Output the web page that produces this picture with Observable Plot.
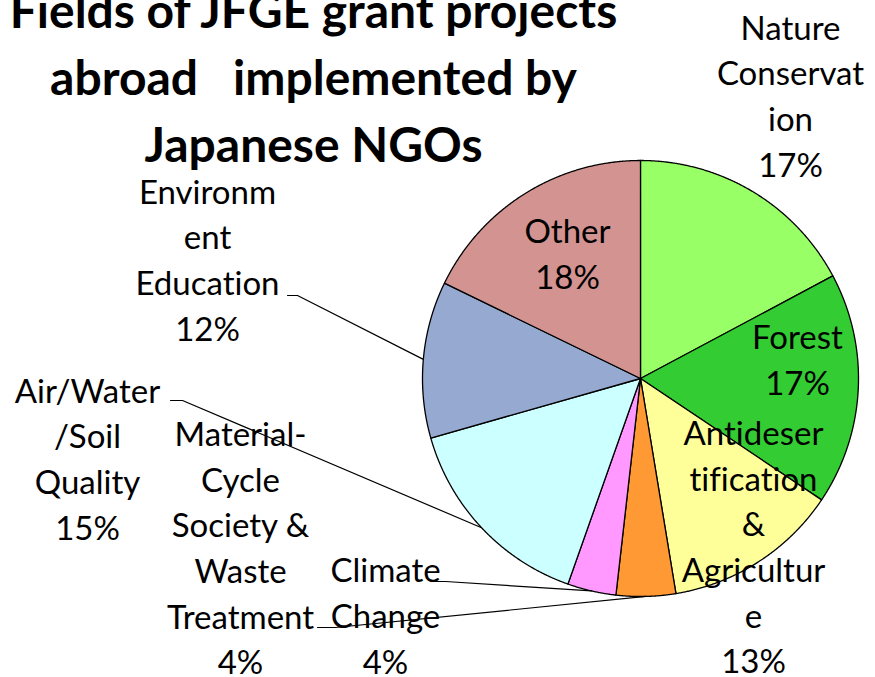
<!DOCTYPE html>
<html><head><meta charset="utf-8">
<script src="https://cdn.jsdelivr.net/npm/d3@7"></script>
<script src="https://cdn.jsdelivr.net/npm/@observablehq/plot@0.6"></script>
<style>
html,body{margin:0;padding:0;background:#fff;overflow:hidden;}
svg text{white-space:pre;font-variant-ligatures:none;font-feature-settings:"liga" 0,"clig" 0;}
</style></head><body><div id="chart"></div>
<script>
// ---- data ----
const categories = ["Nature Conservation","Forest","Antidesertification & Agriculture","Material-Cycle Society & Waste Treatment","Climate Change","Air/Water/Soil Quality","Environment Education","Other"];
const labelLines = ["Nature\nConservat\nion","Forest","Antideser\ntification\n&\nAgricultur\ne","Material-\nCycle\nSociety &\nWaste\nTreatment","Climate\nChange","Air/Water\n/Soil\nQuality","Environm\nent\nEducation","Other"];
const shares = [17.2,17.2,13.0,4.4,3.6,15.2,11.6,17.8];
const percentLabels = ["17%","17%","13%","4%","4%","15%","12%","18%"];
const colors = ["#99FF66","#33CC33","#FFFF99","#FF9933","#FF99FF","#CCFFFF","#95A9D1","#D39391"];
const titleText = "Fields of JFGE grant projects\nabroad   implemented by\nJapanese NGOs";

// ---- layout ----
const W = 875, H = 677, CX = 640, CY = 378, R = 218;
const labelPos = [[790,93],[797,357],[753,544],[240,545],[385,613],[87,456],[207,257],[567,251]];
const leaderStart = {3: [[317,627],[335,627]], 4: [[433,581],[445,581]], 5: [[170,400],[182,400]], 6: [[287,295],[297,295]]};

const total = d3.sum(shares);
const slicePts = [];
const leaderPts = [];
let cum = 0;
categories.forEach((name, i) => {
  const a0 = cum / total * 2 * Math.PI;
  cum += shares[i];
  const a1 = cum / total * 2 * Math.PI;
  const n = Math.max(2, Math.ceil((a1 - a0) / (Math.PI / 720)));
  slicePts.push({name, x: CX, y: CY});
  for (let k = 0; k <= n; k++) {
    const a = a0 + (a1 - a0) * k / n;
    slicePts.push({name, x: CX + R * Math.sin(a), y: CY - R * Math.cos(a)});
  }
  slicePts.push({name, x: CX, y: CY});
  if (leaderStart[i]) {
    const am = (a0 + a1) / 2;
    leaderStart[i].forEach(([x, y]) => leaderPts.push({id: i, x, y}));
    leaderPts.push({id: i, x: CX + R * Math.sin(am), y: CY - R * Math.cos(am)});
  }
});
const labels = categories.map((name, i) => ({
  x: labelPos[i][0], y: labelPos[i][1], text: labelLines[i] + "\n" + percentLabels[i]
}));

const chart = Plot.plot({
  width: W, height: H, margin: 0,
  x: {domain: [0, W], range: [0, W], axis: null},
  y: {domain: [0, H], range: [0, H], axis: null},
  color: {domain: categories, range: colors},
  style: {fontFamily: "Lato, sans-serif", background: "#fff"},
  marks: [
    Plot.line(slicePts, {x: "x", y: "y", z: "name", fill: "name", stroke: "black", strokeWidth: 1.3, curve: "linear"}),
    Plot.line(leaderPts, {x: "x", y: "y", z: "id", stroke: "black", strokeWidth: 1.2}),
    Plot.text(labels, {x: "x", y: "y", text: "text", fontSize: 33, lineHeight: 1.385, fill: "black", textAnchor: "middle"}),
    Plot.text([{x: 313, y: 73, text: titleText}], {x: "x", y: "y", text: "text", fontSize: 48, fontWeight: "bold", lineHeight: 1.4, fill: "black", textAnchor: "middle"})
  ]
});
document.getElementById("chart").appendChild(chart);
</script></body></html>
